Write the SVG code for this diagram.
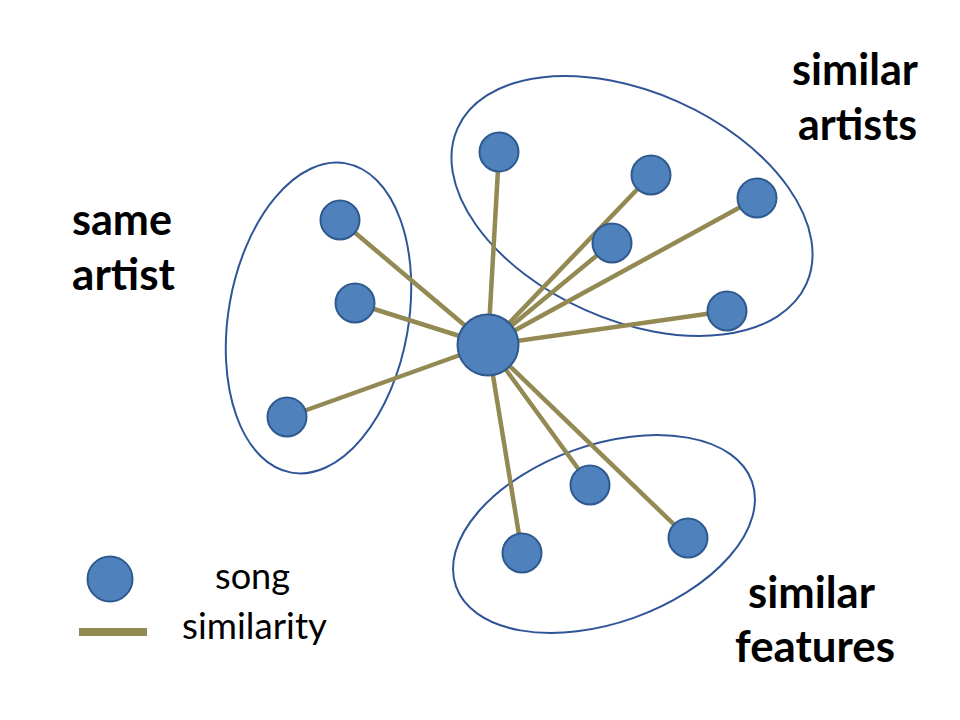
<svg xmlns="http://www.w3.org/2000/svg" width="960" height="720" viewBox="0 0 960 720">
<style>
.grp{fill:none;stroke:#2F5597;stroke-width:2}
.song{fill:#4F81BD;stroke:#2F5A8E;stroke-width:2}
.edge{stroke:#938953;stroke-width:4.5;stroke-linecap:butt}
.lbl{font-family:Lato,"Open Sans","Liberation Sans",sans-serif;font-weight:bold;font-size:44px;fill:#000}
.leg{font-family:Lato,"Open Sans","Liberation Sans",sans-serif;font-size:36px;fill:#000}
</style>
<rect width="960" height="720" fill="#fff"/>
<g id="groups">
<ellipse id="g-same-artist" class="grp" cx="318.5" cy="318" rx="90" ry="157" transform="rotate(10 318.5 318)"/>
<ellipse id="g-similar-artists" class="grp" cx="632" cy="206" rx="191" ry="114" transform="rotate(24 632 206)"/>
<ellipse id="g-similar-features" class="grp" cx="604" cy="534" rx="157" ry="89" transform="rotate(-19.5 604 534)"/>
</g>
<g id="connectors">
<line class="edge" x1="488" y1="345" x2="340" y2="220"/>
<line class="edge" x1="488" y1="345" x2="355" y2="303"/>
<line class="edge" x1="488" y1="345" x2="287" y2="417"/>
<line class="edge" x1="488" y1="345" x2="499" y2="152"/>
<line class="edge" x1="488" y1="345" x2="651" y2="175"/>
<line class="edge" x1="488" y1="345" x2="757" y2="198"/>
<line class="edge" x1="488" y1="345" x2="612" y2="243"/>
<line class="edge" x1="488" y1="345" x2="727" y2="311"/>
<line class="edge" x1="488" y1="345" x2="522" y2="553"/>
<line class="edge" x1="488" y1="345" x2="590" y2="485"/>
<line class="edge" x1="488" y1="345" x2="688" y2="538"/>
</g>
<g id="n-center"><circle class="song" cx="488" cy="345" r="30.5"/></g>
<g id="n-a1"><circle class="song" cx="340" cy="220" r="19.5"/></g>
<g id="n-a2"><circle class="song" cx="355" cy="303" r="19.5"/></g>
<g id="n-a3"><circle class="song" cx="287" cy="417" r="19.5"/></g>
<g id="n-s1"><circle class="song" cx="499" cy="152" r="19.5"/></g>
<g id="n-s2"><circle class="song" cx="651" cy="175" r="19.5"/></g>
<g id="n-s3"><circle class="song" cx="757" cy="198" r="19.5"/></g>
<g id="n-s4"><circle class="song" cx="612" cy="243" r="19.5"/></g>
<g id="n-s5"><circle class="song" cx="727" cy="311" r="19.5"/></g>
<g id="n-f1"><circle class="song" cx="522" cy="553" r="19.5"/></g>
<g id="n-f2"><circle class="song" cx="590" cy="485" r="19.5"/></g>
<g id="n-f3"><circle class="song" cx="688" cy="538" r="19.5"/></g>
<g id="labels">
<text class="lbl" x="72" y="235" textLength="100" lengthAdjust="spacingAndGlyphs">same</text>
<text class="lbl" x="72" y="290" textLength="103" lengthAdjust="spacingAndGlyphs">artist</text>
<text class="lbl" x="792" y="85" textLength="126" lengthAdjust="spacingAndGlyphs">similar</text>
<text class="lbl" x="798" y="140" textLength="119" lengthAdjust="spacingAndGlyphs">artists</text>
<text class="lbl" x="748" y="608" textLength="127" lengthAdjust="spacingAndGlyphs">similar</text>
<text class="lbl" x="735" y="662" textLength="160" lengthAdjust="spacingAndGlyphs">features</text>
</g>
<g id="legend">
<circle class="song" cx="110" cy="579" r="22.5"/>
<line x1="79" y1="632" x2="147" y2="632" stroke="#938953" stroke-width="8"/>
<text class="leg" x="215" y="589" textLength="75" lengthAdjust="spacingAndGlyphs">song</text>
<text class="leg" x="182" y="639" textLength="145" lengthAdjust="spacingAndGlyphs">similarity</text>
</g>
</svg>
